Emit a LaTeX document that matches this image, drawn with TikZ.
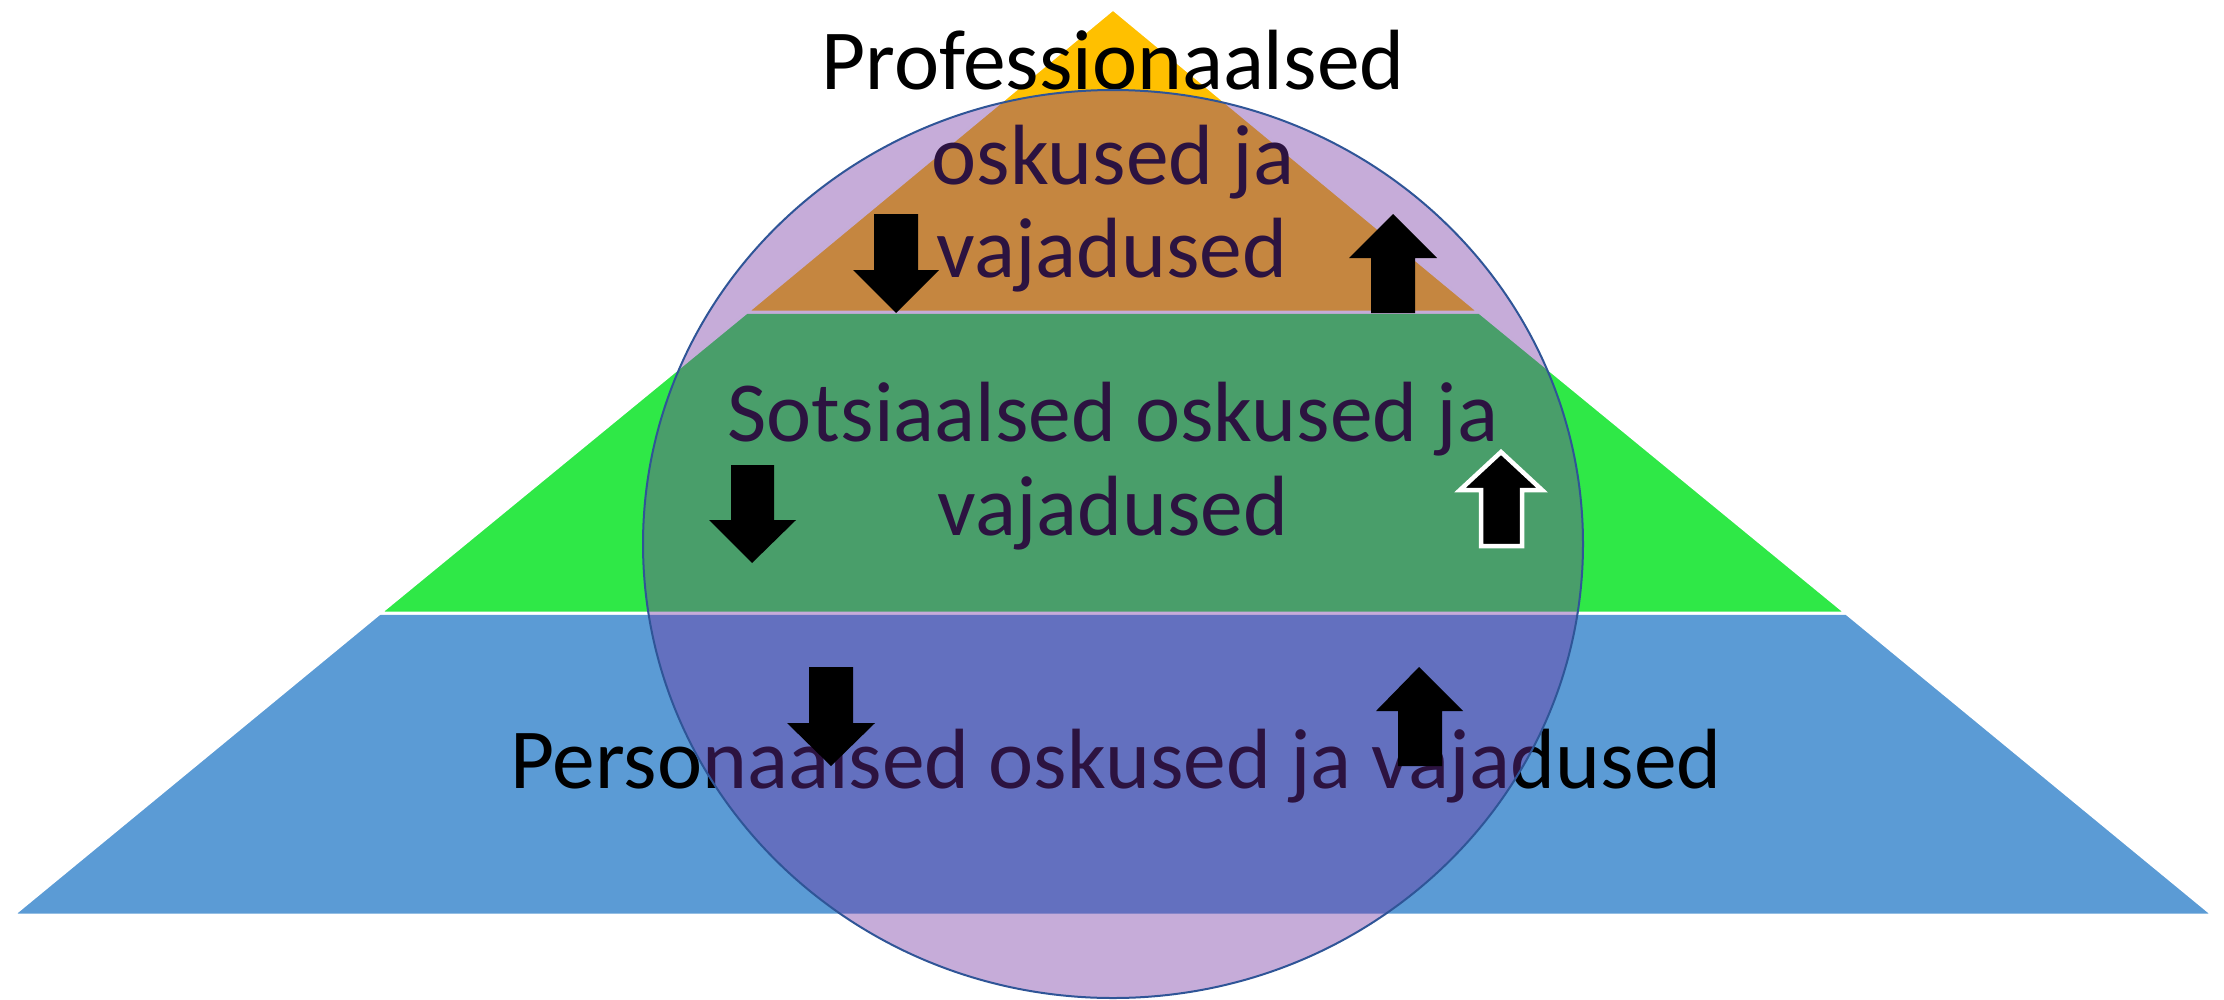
\documentclass[tikz,border=0pt]{standalone}
\usepackage{fontspec}
\setmainfont{Carlito}
\definecolor{gold}{HTML}{FFC000}
\definecolor{lgreen}{HTML}{2FE847}
\definecolor{lblue}{HTML}{5B9BD5}
\definecolor{circfill}{HTML}{7030A0}
\definecolor{circline}{HTML}{2F5597}
\tikzset{
  band/.style={draw=white, line width=3pt, line join=miter},
  lbl/.style={anchor=base, inner sep=0pt, text=black, font=\fontsize{85.5}{100}\selectfont},
  blockarrow/.style={fill=black},
  outlinearrow/.style={fill=black, draw=white, line width=4.5pt, line join=miter}
}
\begin{document}
\begin{tikzpicture}[x=1pt,y=-1pt]
\useasboundingbox (0,0) rectangle (2224,999);
% pyramid bands
\path[band, fill=lblue] (380,613) -- (1846,613) -- (2213,915) -- (13,915) -- cycle;
\path[band, fill=lgreen] (747,312) -- (1479,312) -- (1846,613) -- (380,613) -- cycle;
\path[band, fill=gold] (1113,9) -- (1479,312) -- (747,312) -- cycle;
% texts
\node[lbl] (t1) at (1113,89) {Professionaalsed};
\node[lbl] (t2) at (1113,184) {oskused ja};
\node[lbl] (t3) at (1112,277) {vajadused};
\node[lbl] (s1) at (1113,441) {Sotsiaalsed oskused ja};
\node[lbl] (s2) at (1113,535) {vajadused};
\node[lbl] (p1) at (1116,788) {Personaalsed oskused ja vajadused};
% circle
\path[fill=circfill, fill opacity=0.4, draw=circline, draw opacity=1, line width=2pt]
  (1113,544) ellipse [x radius=470pt, y radius=454pt];
% arrows
\path[blockarrow] (874,214) -- (918,214) -- (918,270) -- (939,270) -- (896,313) -- (853,270) -- (874,270) -- cycle;
\path[blockarrow] (1393,214) -- (1437,258) -- (1415,258) -- (1415,313) -- (1371,313) -- (1371,258) -- (1349,258) -- cycle;
\path[blockarrow] (731,465) -- (774,465) -- (774,520) -- (796,520) -- (752,563) -- (709,520) -- (731,520) -- cycle;
\path[outlinearrow] (1501,452) -- (1542,490) -- (1522,490) -- (1522,546) -- (1481,546) -- (1481,490) -- (1460,490) -- cycle;
\path[blockarrow] (809,667) -- (853,667) -- (853,723) -- (875,723) -- (831,766) -- (787,723) -- (809,723) -- cycle;
\path[blockarrow] (1419,667) -- (1463,711) -- (1442,711) -- (1442,766) -- (1398,766) -- (1398,711) -- (1376,711) -- cycle;
\end{tikzpicture}
\end{document}
